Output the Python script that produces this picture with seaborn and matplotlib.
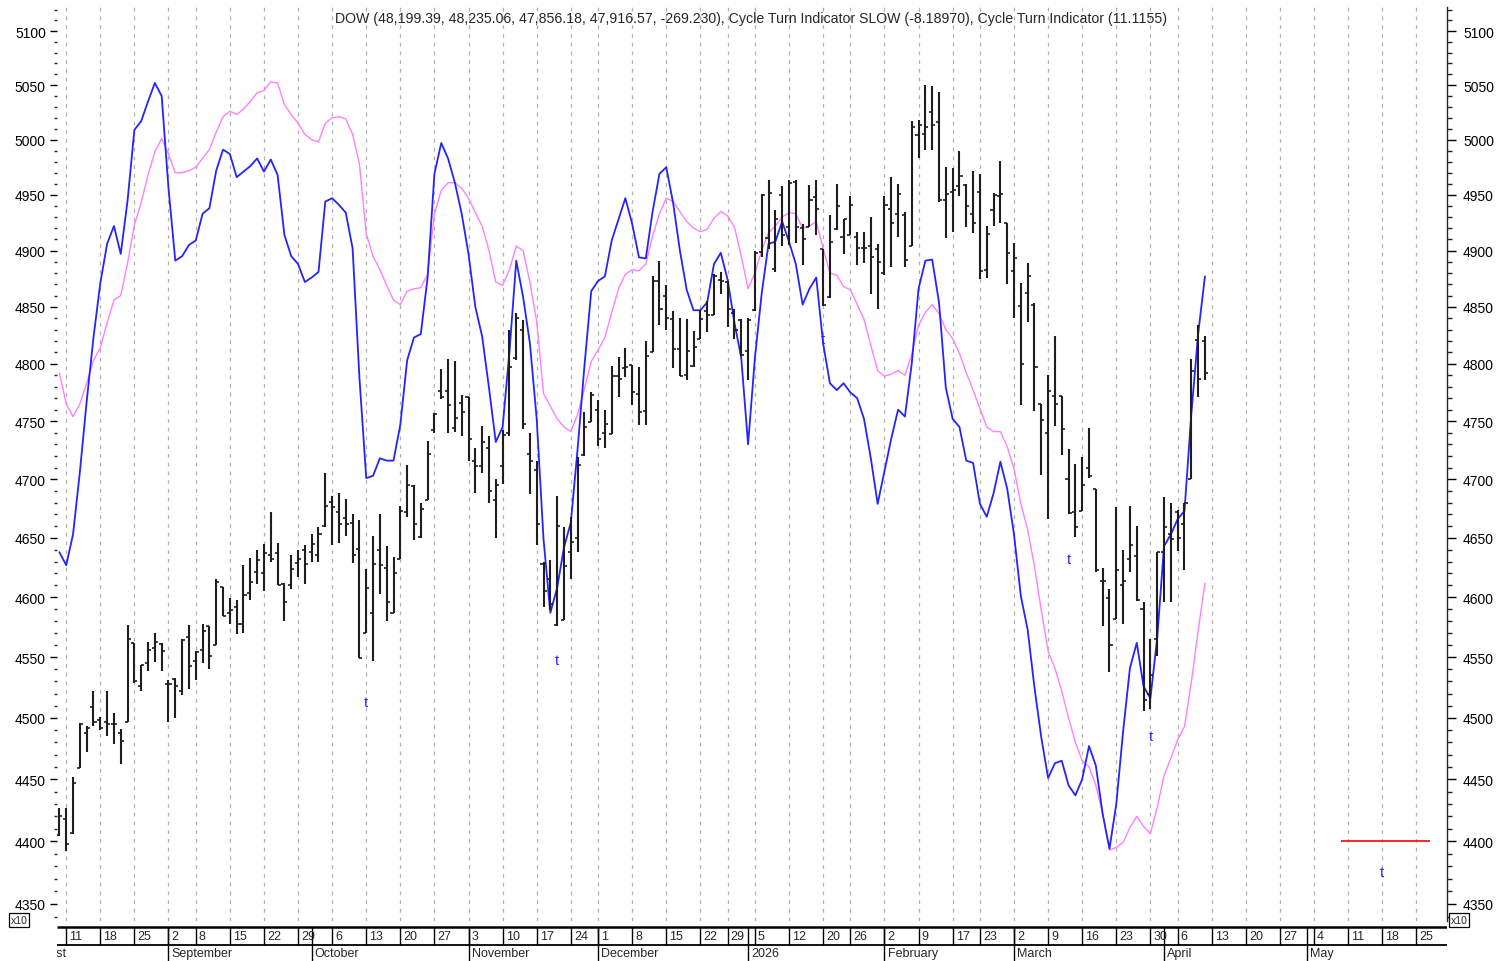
import numpy as np
import pandas as pd
import matplotlib
matplotlib.use('Agg')
import matplotlib.pyplot as plt
from matplotlib.ticker import FixedLocator, FuncFormatter, NullFormatter
import seaborn as sns

# Chart values (DOW / 10), one entry per trading day from 2025-08-08
FIRST_DAY = '2025-08-08'
AXIS_START = '2025-08-01'
AXIS_END = '2026-05-29'
HOLIDAYS = ['2025-09-01', '2025-11-27', '2025-12-25', '2026-01-01',
            '2026-01-19', '2026-02-16', '2026-04-03']

open_ = [4405, 4418, 4407, 4459, 4488, 4509, 4498, 4497, 4495, 4488,
         4497, 4562, 4526, 4545, 4558, 4561, 4528, 4532, 4522, 4567,
         4547, 4556, 4576, 4560, 4609, 4587, 4592, 4578, 4604, 4621,
         4620, 4636, 4637, 4611, 4610, 4629, 4640, 4638, 4636, 4660,
         4681, 4672, 4667, 4663, 4641, 4570, 4587, 4640, 4625, 4587,
         4632, 4672, 4694, 4651, 4682, 4742, 4776, 4776, 4744, 4766,
         4771, 4716, 4711, 4727, 4682, 4711, 4740, 4805, 4830, 4722,
         4708, 4628, 4615, 4577, 4581, 4638, 4650, 4721, 4749, 4760,
         4740, 4739, 4789, 4796, 4799, 4774, 4759, 4810, 4873, 4860,
         4839, 4813, 4790, 4798, 4822, 4846, 4843, 4874, 4872, 4845,
         4838, 4811, 4847, 4899, 4911, 4884, 4950, 4921, 4962, 4920,
         4921, 4948, 4901, 4859, 4919, 4912, 4914, 4912, 4902, 4904,
         4901, 4880, 4937, 4933, 4932, 4904, 5004, 5005, 5025, 5016,
         4945, 4953, 4958, 4959, 4933, 4953, 4883, 4936, 4949, 4925,
         4882, 4851, 4862, 4852, 4765, 4740, 4772, 4772, 4700, 4672,
         4673, 4710, 4692, 4614, 4599, 4582, 4610, 4632, 4635, 4590,
         4520, 4565, 4638, 4653, 4672, 4662, 4700, 4821, 4820]

high_ = [4427, 4427, 4452, 4496, 4493, 4522, 4501, 4522, 4504, 4491,
         4577, 4562, 4544, 4563, 4570, 4562, 4531, 4533, 4565, 4577,
         4555, 4578, 4576, 4615, 4609, 4599, 4598, 4627, 4633, 4640,
         4645, 4672, 4646, 4612, 4636, 4640, 4644, 4653, 4659, 4705,
         4686, 4688, 4683, 4670, 4665, 4624, 4652, 4670, 4643, 4634,
         4677, 4712, 4695, 4680, 4733, 4757, 4795, 4804, 4802, 4773,
         4771, 4727, 4746, 4737, 4700, 4742, 4830, 4845, 4838, 4740,
         4716, 4630, 4631, 4686, 4659, 4668, 4719, 4758, 4775, 4768,
         4760, 4798, 4806, 4814, 4799, 4797, 4820, 4877, 4891, 4869,
         4846, 4840, 4839, 4829, 4847, 4855, 4879, 4881, 4873, 4848,
         4839, 4840, 4900, 4951, 4963, 4936, 4958, 4963, 4963, 4924,
         4959, 4963, 4901, 4932, 4960, 4928, 4949, 4917, 4917, 4930,
         4906, 4949, 4966, 4960, 4935, 5017, 5018, 5050, 5049, 5044,
         4975, 4974, 4990, 4960, 4972, 4969, 4922, 4952, 4981, 4925,
         4907, 4871, 4889, 4853, 4765, 4790, 4824, 4772, 4726, 4713,
         4719, 4744, 4692, 4625, 4607, 4676, 4640, 4677, 4660, 4596,
         4565, 4638, 4685, 4680, 4674, 4680, 4804, 4834, 4824]

low_ = [4404, 4392, 4406, 4459, 4472, 4493, 4490, 4485, 4479, 4462,
        4497, 4529, 4522, 4539, 4546, 4539, 4497, 4500, 4519, 4524,
        4531, 4545, 4540, 4560, 4584, 4578, 4569, 4570, 4598, 4611,
        4605, 4630, 4610, 4580, 4607, 4617, 4611, 4630, 4630, 4659,
        4644, 4646, 4652, 4629, 4549, 4570, 4547, 4603, 4580, 4587,
        4632, 4668, 4648, 4650, 4682, 4740, 4769, 4740, 4741, 4737,
        4716, 4688, 4705, 4680, 4650, 4696, 4737, 4803, 4743, 4687,
        4644, 4592, 4589, 4576, 4581, 4615, 4638, 4720, 4749, 4729,
        4727, 4739, 4771, 4788, 4764, 4747, 4747, 4810, 4834, 4830,
        4796, 4789, 4786, 4797, 4822, 4828, 4843, 4861, 4832, 4822,
        4807, 4786, 4846, 4894, 4901, 4881, 4904, 4905, 4907, 4887,
        4921, 4914, 4851, 4858, 4918, 4897, 4914, 4887, 4889, 4861,
        4848, 4878, 4885, 4912, 4885, 4904, 4983, 4991, 4991, 4944,
        4911, 4917, 4949, 4921, 4916, 4875, 4876, 4922, 4925, 4870,
        4840, 4764, 4837, 4759, 4704, 4666, 4746, 4721, 4670, 4651,
        4673, 4701, 4621, 4576, 4538, 4582, 4578, 4621, 4597, 4506,
        4507, 4551, 4596, 4596, 4639, 4623, 4700, 4771, 4786]

close_ = [4420, 4398, 4447, 4495, 4492, 4497, 4492, 4495, 4495, 4481,
          4565, 4530, 4544, 4556, 4563, 4555, 4528, 4526, 4564, 4543,
          4554, 4572, 4551, 4613, 4584, 4589, 4578, 4602, 4613, 4631,
          4637, 4632, 4610, 4596, 4624, 4632, 4628, 4645, 4653, 4677,
          4676, 4662, 4662, 4636, 4549, 4608, 4628, 4627, 4596, 4620,
          4673, 4695, 4662, 4675, 4722, 4756, 4771, 4764, 4753, 4758,
          4735, 4711, 4732, 4690, 4695, 4738, 4797, 4840, 4748, 4716,
          4662, 4605, 4594, 4660, 4626, 4647, 4712, 4745, 4773, 4735,
          4748, 4789, 4787, 4797, 4775, 4758, 4807, 4873, 4848, 4840,
          4813, 4789, 4811, 4815, 4839, 4843, 4877, 4873, 4848, 4830,
          4808, 4838, 4898, 4950, 4952, 4928, 4914, 4961, 4921, 4910,
          4945, 4937, 4852, 4908, 4940, 4928, 4941, 4902, 4902, 4894,
          4890, 4941, 4925, 4951, 4892, 5012, 5013, 5012, 5013, 4945,
          4951, 4954, 4967, 4940, 4925, 4882, 4915, 4950, 4951, 4898,
          4893, 4800, 4877, 4797, 4751, 4776, 4765, 4743, 4671, 4659,
          4695, 4703, 4623, 4614, 4560, 4623, 4614, 4644, 4598, 4515,
          4535, 4638, 4659, 4649, 4650, 4680, 4794, 4787, 4792]

# Cycle Turn Indicator (blue) and Cycle Turn Indicator SLOW (violet)
cti = [4638, 4627, 4653, 4706, 4767, 4823, 4871, 4906, 4922, 4897,
       4945, 5009, 5017, 5035, 5052, 5040, 4956, 4891, 4895, 4905,
       4909, 4933, 4938, 4972, 4991, 4987, 4966, 4971, 4976, 4983,
       4971, 4982, 4968, 4914, 4895, 4888, 4872, 4876, 4881, 4944,
       4947, 4941, 4934, 4902, 4788, 4701, 4703, 4718, 4716, 4716,
       4747, 4803, 4823, 4826, 4876, 4969, 4997, 4983, 4961, 4933,
       4897, 4850, 4824, 4779, 4732, 4745, 4810, 4891, 4859, 4818,
       4752, 4649, 4587, 4608, 4642, 4663, 4726, 4798, 4864, 4873,
       4877, 4909, 4928, 4947, 4924, 4894, 4893, 4935, 4969, 4975,
       4943, 4900, 4865, 4847, 4847, 4854, 4888, 4898, 4874, 4836,
       4805, 4730, 4805, 4862, 4906, 4908, 4926, 4908, 4888, 4852,
       4866, 4876, 4818, 4783, 4777, 4783, 4775, 4770, 4752, 4718,
       4679, 4707, 4735, 4760, 4754, 4800, 4866, 4891, 4892, 4854,
       4779, 4752, 4745, 4716, 4714, 4679, 4668, 4688, 4715, 4692,
       4653, 4601, 4573, 4525, 4484, 4451, 4463, 4465, 4445, 4437,
       4450, 4477, 4461, 4422, 4394, 4430, 4489, 4541, 4562, 4526,
       4516, 4566, 4643, 4653, 4666, 4673, 4756, 4826, 4877]

cti_slow = [4792, 4765, 4754, 4765, 4783, 4803, 4814, 4836, 4856, 4860,
            4889, 4923, 4943, 4968, 4989, 5001, 4987, 4970, 4970, 4972,
            4975, 4983, 4991, 5007, 5021, 5026, 5023, 5028, 5035, 5043,
            5045, 5053, 5052, 5032, 5023, 5015, 5005, 5000, 4998, 5015,
            5020, 5021, 5019, 5005, 4978, 4915, 4895, 4883, 4869, 4856,
            4852, 4864, 4866, 4867, 4879, 4933, 4954, 4961, 4961, 4956,
            4947, 4934, 4922, 4900, 4872, 4869, 4883, 4904, 4900, 4872,
            4837, 4774, 4763, 4752, 4745, 4741, 4756, 4778, 4802, 4812,
            4823, 4845, 4866, 4879, 4883, 4882, 4888, 4913, 4933, 4947,
            4944, 4935, 4926, 4920, 4917, 4919, 4929, 4935, 4931, 4921,
            4895, 4866, 4880, 4900, 4916, 4922, 4930, 4934, 4933, 4920,
            4922, 4926, 4902, 4880, 4878, 4868, 4865, 4852, 4839, 4816,
            4794, 4789, 4791, 4794, 4790, 4808, 4834, 4845, 4852, 4844,
            4830, 4822, 4809, 4792, 4777, 4761, 4745, 4741, 4741, 4728,
            4709, 4679, 4657, 4626, 4589, 4555, 4541, 4522, 4500, 4480,
            4465, 4460, 4445, 4422, 4393, 4395, 4399, 4411, 4420, 4412,
            4406, 4427, 4453, 4467, 4482, 4493, 4529, 4572, 4612]

# turn markers ("t") and the projected red level
turn_dates = ['2025-10-13', '2025-11-20', '2026-01-20', '2026-03-12', '2026-03-30', '2026-05-18']
turn_values = [4513, 4548, 4822, 4632, 4485, 4375]
red_level = 4400
red_from, red_to = '2026-05-08', '2026-05-27'

title = ('DOW (48,199.39, 48,235.06, 47,856.18, 47,916.57, -269.230), '
         'Cycle Turn Indicator SLOW (-8.18970), Cycle Turn Indicator (11.1155)')
month_names = ['August', 'September', 'October', 'November', 'December',
               '2026', 'February', 'March', 'April', 'May']

# ---- calendar / positions (trading-day index) ----
all_days = pd.bdate_range(AXIS_START, AXIS_END)
all_days = all_days[~all_days.isin(pd.to_datetime(HOLIDAYS))]
offset = all_days.get_loc(pd.Timestamp(FIRST_DAY))
day_pos = pd.Series(np.arange(len(all_days)) - offset, index=all_days)

cal = pd.DataFrame({'date': all_days, 'pos': day_pos.values})
iso = cal['date'].dt.isocalendar()
cal['week'] = iso['year'].astype(str) + '-' + iso['week'].astype(str)
cal['month'] = cal['date'].dt.to_period('M')
week_starts = cal.groupby('week', sort=False).first()
month_starts = cal.groupby('month', sort=False).first()

n = len(close_)
df = pd.DataFrame({'pos': day_pos.values[offset:offset + n],
                   'open': open_, 'high': high_, 'low': low_, 'close': close_,
                   'cti': cti, 'cti_slow': cti_slow})

# ---- style ----
sns.set_style('white')
plt.rcParams['font.family'] = ['Liberation Sans', 'DejaVu Sans']

W, H = 1507, 962
fig = plt.figure(figsize=(W / 100, H / 100), dpi=100, facecolor='white')

x_lo, x_hi = -0.35, 203.5
y_lo, y_hi = 4336.5, 5122.4
ax = fig.add_axes([57 / W, 40 / H, 1390 / W, 914 / H])
ax.set_yscale('log')
ax.set_xlim(x_lo, x_hi)
ax.set_ylim(y_lo, y_hi)

# weekly dashed gridlines
for p in week_starts['pos']:
    if x_lo < p < x_hi:
        ax.axvline(p, color='#b0b0b0', lw=0.9, ls=(0, (3, 4)), zorder=0)

# indicators
sns.lineplot(data=df, x='pos', y='cti_slow', color='#ff80ff', lw=1.0, ax=ax, zorder=2)
sns.lineplot(data=df, x='pos', y='cti', color='#2424ff', lw=1.3, ax=ax, zorder=3)

# OHLC bars
bar_col = '#1e1e1e'
ax.vlines(df['pos'], df['low'], df['high'], color=bar_col, lw=1.5, zorder=4)
ax.hlines(df['open'], df['pos'] - 0.45, df['pos'], color=bar_col, lw=1.2, zorder=4)
ax.hlines(df['close'], df['pos'], df['pos'] + 0.45, color=bar_col, lw=1.2, zorder=4)

# turn markers
for d, v in zip(turn_dates, turn_values):
    ax.text(day_pos[pd.Timestamp(d)], v, 't', color='#2424ff', fontsize=10.5,
            ha='center', va='center', zorder=5)

ax.hlines(red_level, day_pos[pd.Timestamp(red_from)], day_pos[pd.Timestamp(red_to)],
          color='red', lw=1.2, zorder=5)

ax.set_xlabel('')
ax.set_ylabel('')
ax.set_xticks([])
for s in ax.spines.values():
    s.set_visible(False)

major = np.arange(4350, 5101, 50)
minor = [v for v in range(4340, 5121, 10) if v % 50]
fmt = FuncFormatter(lambda v, _: f'{v:.0f}')

ax.yaxis.set_major_locator(FixedLocator(major))
ax.yaxis.set_minor_locator(FixedLocator(minor))
ax.yaxis.set_major_formatter(fmt)
ax.yaxis.set_minor_formatter(NullFormatter())
ax.tick_params(axis='y', which='major', left=True, length=5, width=1, pad=3,
               labelsize=10, colors='black')
ax.tick_params(axis='y', which='minor', left=True, length=2, width=1)

ax2 = ax.twinx()
ax2.set_yscale('log')
ax2.set_ylim(y_lo, y_hi)
ax2.yaxis.set_major_locator(FixedLocator(major))
ax2.yaxis.set_minor_locator(FixedLocator(minor))
ax2.yaxis.set_major_formatter(fmt)
ax2.yaxis.set_minor_formatter(NullFormatter())
ax2.tick_params(axis='y', which='major', right=True, length=6.5, width=1, pad=5,
                labelsize=10, colors='black')
ax2.tick_params(axis='y', which='minor', right=True, length=3.6, width=1)
ax2.set_xticks([])
for k, s in ax2.spines.items():
    s.set_visible(k == 'right')
ax2.spines['right'].set_linewidth(1.0)
ax2.set_ylabel('')

fig.text(751 / W, 1 - 19 / H, title, ha='center', va='center', fontsize=10.2)
box = dict(boxstyle='square,pad=0.15', fc='white', ec='black', lw=0.9)
fig.text(11 / W, 1 - 921 / H, 'x10', fontsize=7.5, va='center', bbox=box)
fig.text(1451 / W, 1 - 921 / H, 'x10', fontsize=7.5, va='center', bbox=box)

# ---- date axis below the plot ----
axd = fig.add_axes([57 / W, 0, 1390 / W, 40 / H])
axd.set_xlim(x_lo, x_hi)
axd.set_ylim(40, 0)
axd.axis('off')
axd.hlines(6, x_lo, x_hi, color='black', lw=1.8)
axd.hlines(24, x_lo, x_hi, color='black', lw=1.3)
for _, r in week_starts.iterrows():
    axd.vlines(r['pos'], 6, 24, color='black', lw=1)
    axd.text(r['pos'] + 0.45, 15.5, str(r['date'].day), fontsize=9,
             ha='left', va='center', clip_on=True)
for (_, r), name in zip(month_starts.iterrows(), month_names):
    axd.vlines(r['pos'], 6, 40, color='black', lw=1)
    axd.text(r['pos'] + 0.45, 32.5, name, fontsize=9,
             ha='left', va='center', clip_on=True)

fig.savefig('out.png', dpi=100, facecolor='white')
